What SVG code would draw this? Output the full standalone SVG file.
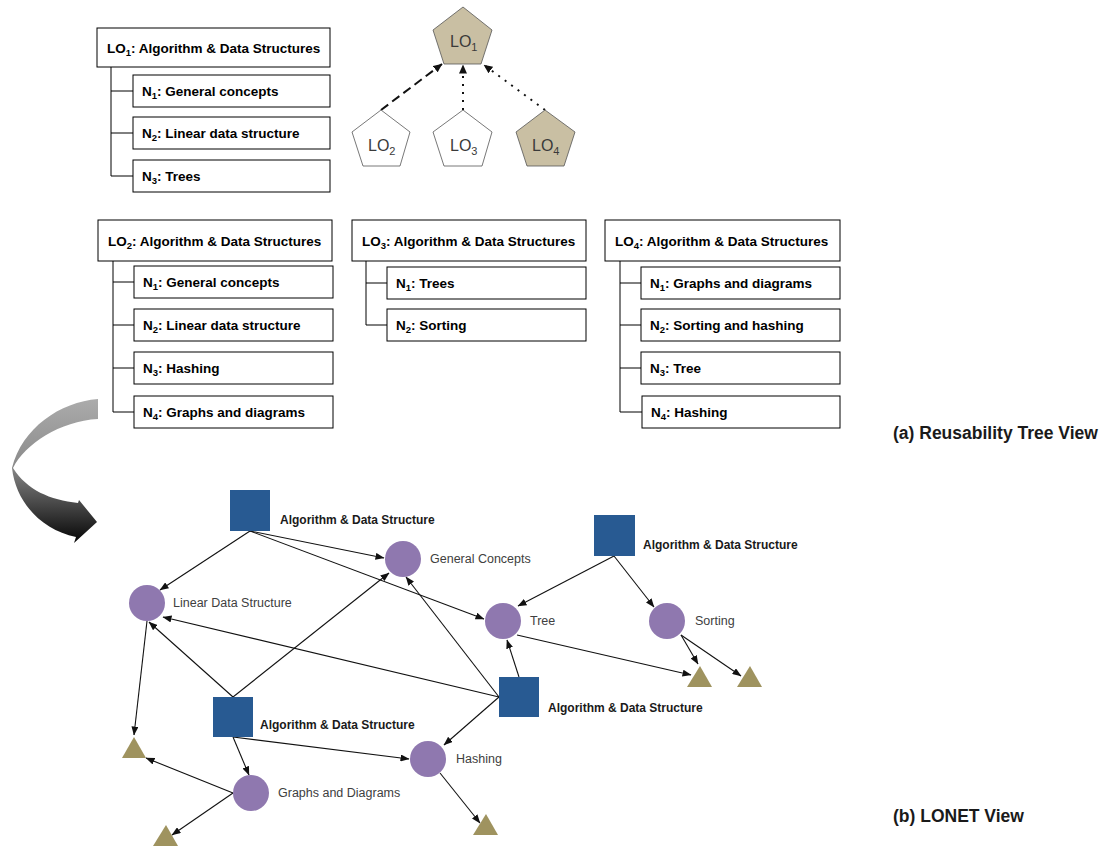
<svg xmlns="http://www.w3.org/2000/svg" width="1111" height="849" viewBox="0 0 1111 849">
  <style>
    .box { fill: #ffffff; stroke: #000000; stroke-width: 1; }
    .tl { fill: none; stroke: #000000; stroke-width: 1; }
    .tt { font-family: "Liberation Sans", Arial, sans-serif; font-weight: bold; font-size: 13.5px; fill: #000000; }
    .sub { font-size: 9.5px; }
    .pent-tan { fill: #c9bfa3; stroke: #555555; stroke-width: 0.8; }
    .pent-white { fill: #ffffff; stroke: #555555; stroke-width: 0.8; }
    .pt { font-family: "Liberation Sans", Arial, sans-serif; font-size: 16px; fill: #3a3a3a; }
    .psub { font-size: 11px; }
    .sq { fill: #285a92; }
    .ci { fill: #8f78af; }
    .tri { fill: #9f935f; }
    .lbl { font-family: "Liberation Sans", Arial, sans-serif; font-size: 12.5px; fill: #404040; }
    .blbl { font-family: "Liberation Sans", Arial, sans-serif; font-weight: bold; font-size: 12px; fill: #1a1a1a; }
    .cap { font-family: "Liberation Sans", Arial, sans-serif; font-weight: bold; font-size: 17.5px; fill: #1a1a1a; }
    .edge { fill: none; stroke: #111111; stroke-width: 1.1; marker-end: url(#ah); }
    .rel { fill: none; stroke: #111111; stroke-width: 2; marker-end: url(#ah2); }
  </style>
  <defs>
    <marker id="ah" markerUnits="userSpaceOnUse" markerWidth="9" markerHeight="7" refX="8.5" refY="3.5" orient="auto">
      <path d="M0,0 L9,3.5 L0,7 Z" fill="#111111"/>
    </marker>
    <marker id="ah2" markerUnits="userSpaceOnUse" markerWidth="9" markerHeight="8" refX="8.5" refY="4" orient="auto">
      <path d="M0,0 L9,4 L0,8 Z" fill="#111111"/>
    </marker>
    <linearGradient id="bend" gradientUnits="userSpaceOnUse" x1="0" y1="399" x2="0" y2="543">
      <stop offset="0" stop-color="#ababab"/>
      <stop offset="0.45" stop-color="#8c8c8c"/>
      <stop offset="1" stop-color="#050505"/>
    </linearGradient>
  </defs>

  <rect width="1111" height="849" fill="#ffffff"/>

  <!-- Reusability tree: LO1 -->
  <g id="tree-lo1">
    <path class="tl" d="M111,67 V176 M111,91 H133 M111,133 H133 M111,176 H133"/>
    <rect class="box" x="97" y="28" width="233" height="39"/>
    <text class="tt" x="107" y="53">LO<tspan class="sub" dy="3">1</tspan><tspan dy="-3">: Algorithm &amp; Data Structures</tspan></text>
    <rect class="box" x="133" y="75" width="197" height="32"/>
    <text class="tt" x="142" y="96">N<tspan class="sub" dy="3">1</tspan><tspan dy="-3">: General concepts</tspan></text>
    <rect class="box" x="133" y="117" width="197" height="32"/>
    <text class="tt" x="142" y="138">N<tspan class="sub" dy="3">2</tspan><tspan dy="-3">: Linear data structure</tspan></text>
    <rect class="box" x="133" y="160" width="197" height="32"/>
    <text class="tt" x="142" y="181">N<tspan class="sub" dy="3">3</tspan><tspan dy="-3">: Trees</tspan></text>
  </g>

  <!-- Reuse relation between learning objects -->
  <g id="relations">
    <path class="rel" d="M381,110 L442,64" stroke-dasharray="9,5"/>
    <path class="rel" d="M463,110 L463,65" stroke-dasharray="2,6"/>
    <path class="rel" d="M545,110 L484,65" stroke-dasharray="2,6"/>
  </g>

  <g id="pent-lo1">
    <polygon class="pent-tan" points="463,7 492,30 481,64 444,64 433,30"/>
    <text class="pt" x="450" y="47">LO<tspan class="psub" dy="4">1</tspan></text>
  </g>
  <g id="pent-lo2">
    <polygon class="pent-white" points="381,110 410,132 400,166 363,166 352,132"/>
    <text class="pt" x="368" y="151">LO<tspan class="psub" dy="4">2</tspan></text>
  </g>
  <g id="pent-lo3">
    <polygon class="pent-white" points="463,110 492,132 482,166 444,166 433,132"/>
    <text class="pt" x="450" y="151">LO<tspan class="psub" dy="4">3</tspan></text>
  </g>
  <g id="pent-lo4">
    <polygon class="pent-tan" points="545,110 575,132 564,166 527,166 516,132"/>
    <text class="pt" x="532" y="151">LO<tspan class="psub" dy="4">4</tspan></text>
  </g>

  <!-- Reusability tree: LO2 -->
  <g id="tree-lo2">
    <path class="tl" d="M113,261 V412 M113,282 H134 M113,325 H134 M113,368 H134 M113,412 H134"/>
    <rect class="box" x="98" y="220" width="234" height="41"/>
    <text class="tt" x="108" y="246">LO<tspan class="sub" dy="3">2</tspan><tspan dy="-3">: Algorithm &amp; Data Structures</tspan></text>
    <rect class="box" x="134" y="266" width="199" height="32"/>
    <text class="tt" x="143" y="287">N<tspan class="sub" dy="3">1</tspan><tspan dy="-3">: General concepts</tspan></text>
    <rect class="box" x="134" y="309" width="199" height="32"/>
    <text class="tt" x="143" y="330">N<tspan class="sub" dy="3">2</tspan><tspan dy="-3">: Linear data structure</tspan></text>
    <rect class="box" x="134" y="352" width="199" height="32"/>
    <text class="tt" x="143" y="373">N<tspan class="sub" dy="3">3</tspan><tspan dy="-3">: Hashing</tspan></text>
    <rect class="box" x="134" y="396" width="199" height="32"/>
    <text class="tt" x="143" y="417">N<tspan class="sub" dy="3">4</tspan><tspan dy="-3">: Graphs and diagrams</tspan></text>
  </g>

  <!-- Reusability tree: LO3 -->
  <g id="tree-lo3">
    <path class="tl" d="M366,261 V325 M366,283 H387 M366,325 H387"/>
    <rect class="box" x="352" y="220" width="234" height="41"/>
    <text class="tt" x="362" y="246">LO<tspan class="sub" dy="3">3</tspan><tspan dy="-3">: Algorithm &amp; Data Structures</tspan></text>
    <rect class="box" x="387" y="267" width="199" height="32"/>
    <text class="tt" x="396" y="288">N<tspan class="sub" dy="3">1</tspan><tspan dy="-3">: Trees</tspan></text>
    <rect class="box" x="387" y="309" width="199" height="32"/>
    <text class="tt" x="396" y="330">N<tspan class="sub" dy="3">2</tspan><tspan dy="-3">: Sorting</tspan></text>
  </g>

  <!-- Reusability tree: LO4 -->
  <g id="tree-lo4">
    <path class="tl" d="M620,261 V412 M620,283 H641 M620,325 H641 M620,368 H641 M620,412 H642"/>
    <rect class="box" x="605" y="220" width="235" height="41"/>
    <text class="tt" x="615" y="246">LO<tspan class="sub" dy="3">4</tspan><tspan dy="-3">: Algorithm &amp; Data Structures</tspan></text>
    <rect class="box" x="641" y="267" width="199" height="32"/>
    <text class="tt" x="650" y="288">N<tspan class="sub" dy="3">1</tspan><tspan dy="-3">: Graphs and diagrams</tspan></text>
    <rect class="box" x="641" y="309" width="199" height="32"/>
    <text class="tt" x="650" y="330">N<tspan class="sub" dy="3">2</tspan><tspan dy="-3">: Sorting and hashing</tspan></text>
    <rect class="box" x="641" y="352" width="199" height="32"/>
    <text class="tt" x="650" y="373">N<tspan class="sub" dy="3">3</tspan><tspan dy="-3">: Tree</tspan></text>
    <rect class="box" x="642" y="396" width="198" height="32"/>
    <text class="tt" x="651" y="417">N<tspan class="sub" dy="3">4</tspan><tspan dy="-3">: Hashing</tspan></text>
  </g>

  <text class="cap" x="893" y="439">(a) Reusability Tree View</text>

  <!-- Curved transition arrow -->
  <g id="bend-arrow">
    <path fill="url(#bend)" d="M98,399 C60,402 22,428 12,468 C16,503 42,530 76,537 L74,543 L97,522 L79,500 L78,503 C50,500 27,490 13,468 C25,444 60,421 98,419 Z"/>
  </g>

  <!-- LONET connectors -->
  <g id="connectors">
    <path class="edge" d="M250,531 L160,590"/>
    <path class="edge" d="M250,531 L384,558"/>
    <path class="edge" d="M250,531 L484,619"/>
    <path class="edge" d="M614,556 L518,606"/>
    <path class="edge" d="M614,556 L654,607"/>
    <path class="edge" d="M517,635 L691,675"/>
    <path class="edge" d="M681,635 L698,664"/>
    <path class="edge" d="M681,635 L741,676"/>
    <path class="edge" d="M499,697 L163,617"/>
    <path class="edge" d="M499,697 L406,577"/>
    <path class="edge" d="M519,677 L507,640"/>
    <path class="edge" d="M499,697 L444,745"/>
    <path class="edge" d="M233,697 L389,573"/>
    <path class="edge" d="M233,697 L149,622"/>
    <path class="edge" d="M147,621 L134,735"/>
    <path class="edge" d="M233,737 L249,775"/>
    <path class="edge" d="M233,737 L409,759"/>
    <path class="edge" d="M233,793 L146,758"/>
    <path class="edge" d="M233,793 L172,835"/>
    <path class="edge" d="M440,773 L480,823"/>
  </g>

  <!-- LONET nodes: learning objects -->
  <g id="lo-a">
    <rect class="sq" x="230" y="490" width="40" height="41"/>
    <text class="blbl" x="280" y="524">Algorithm &amp; Data Structure</text>
  </g>
  <g id="lo-b">
    <rect class="sq" x="594" y="515" width="41" height="41"/>
    <text class="blbl" x="643" y="549">Algorithm &amp; Data Structure</text>
  </g>
  <g id="lo-c">
    <rect class="sq" x="213" y="697" width="40" height="40"/>
    <text class="blbl" x="260" y="729">Algorithm &amp; Data Structure</text>
  </g>
  <g id="lo-d">
    <rect class="sq" x="499" y="677" width="40" height="40"/>
    <text class="blbl" x="548" y="712">Algorithm &amp; Data Structure</text>
  </g>

  <!-- LONET nodes: concepts -->
  <g id="c-linear">
    <circle class="ci" cx="147" cy="603" r="18"/>
    <text class="lbl" x="173" y="607">Linear Data Structure</text>
  </g>
  <g id="c-general">
    <circle class="ci" cx="403" cy="559" r="18"/>
    <text class="lbl" x="430" y="563">General Concepts</text>
  </g>
  <g id="c-tree">
    <circle class="ci" cx="503" cy="621" r="18"/>
    <text class="lbl" x="530" y="625">Tree</text>
  </g>
  <g id="c-sorting">
    <circle class="ci" cx="667" cy="621" r="18"/>
    <text class="lbl" x="695" y="625">Sorting</text>
  </g>
  <g id="c-hashing">
    <circle class="ci" cx="428" cy="759" r="18"/>
    <text class="lbl" x="456" y="763">Hashing</text>
  </g>
  <g id="c-graphs">
    <circle class="ci" cx="251" cy="793" r="18"/>
    <text class="lbl" x="278" y="797">Graphs and Diagrams</text>
  </g>

  <!-- LONET nodes: resources -->
  <g id="r-1"><polygon class="tri" points="134,737 146,758 122,758"/></g>
  <g id="r-2"><polygon class="tri" points="166,825 178,846 153,846"/></g>
  <g id="r-3"><polygon class="tri" points="486,814 498,835 473,835"/></g>
  <g id="r-4"><polygon class="tri" points="700,666 712,687 687,687"/></g>
  <g id="r-5"><polygon class="tri" points="750,666 762,687 737,687"/></g>

  <text class="cap" x="893" y="822">(b) LONET View</text>
</svg>
